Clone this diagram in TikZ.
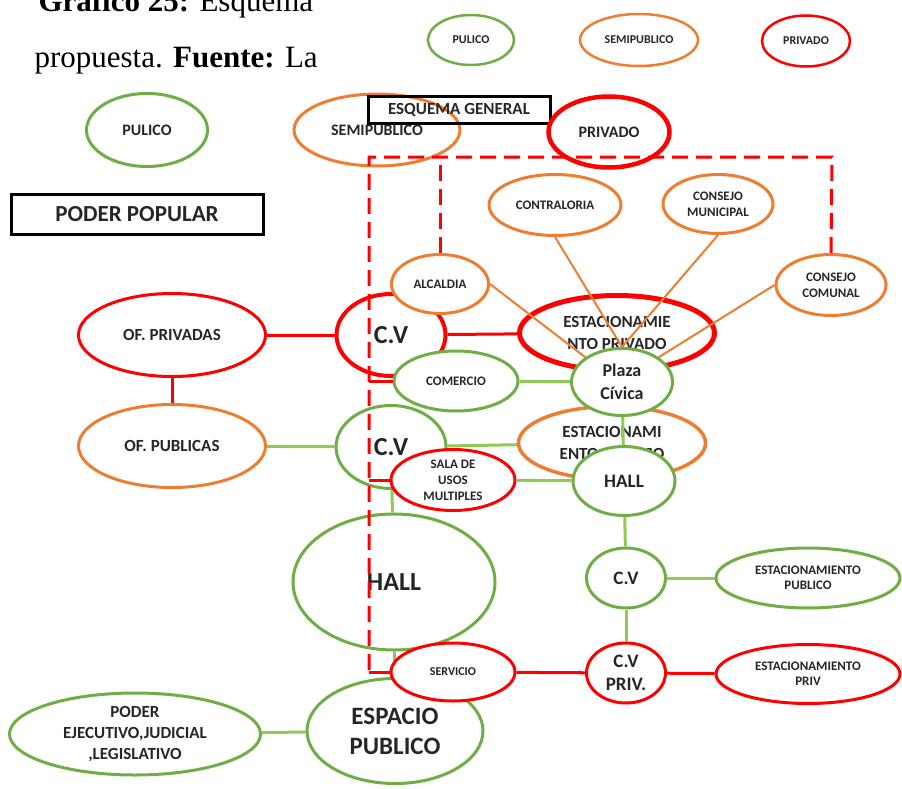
\documentclass[tikz,border=0pt]{standalone}
\usepackage{fontspec}
\setmainfont{Carlito}
\newfontfamily\capfont{Liberation Serif}
\usepackage{tikz}
\usetikzlibrary{shapes}

\definecolor{verde}{HTML}{70AD47}
\definecolor{verdeclaro}{HTML}{92C857}
\definecolor{naranja}{HTML}{ED7D31}
\definecolor{rojo}{HTML}{FF0000}
\newcommand{\tam}[2]{\fontsize{#1}{#2}\selectfont}

\begin{document}
\begin{tikzpicture}[x=1pt,y=-1pt,
  esp/.style={ellipse, fill=white, line width=3pt, inner sep=0pt, align=center, text=black!85, font=\tam{13}{16}\bfseries},
  pub/.style={esp, draw=verde},
  semi/.style={esp, draw=naranja},
  priv/.style={esp, draw=rojo},
  caja/.style={draw=black, line width=3pt, inner sep=0pt, text=black!85},
  lverde/.style={draw=verdeclaro, line width=3pt},
  lrojo/.style={draw=rojo, line width=3pt},
  lnaranja/.style={draw=naranja, line width=2pt},
  limite/.style={draw=rojo, line width=3pt, dash pattern=on 16pt off 8pt}]
\useasboundingbox (0,0) rectangle (902,789);

\node[anchor=base west, font=\capfont\tam{31}{37}] (titulo) at (35,12) {\textbf{Gráfico 25:} Esquema};
\node[anchor=base west, font=\capfont\tam{31}{37}] (fuente) at (31,68) {propuesta. \textbf{Fuente:} La};

\node[pub, line width=2.5pt, minimum width=86, minimum height=50, font=\tam{12}{14}\bfseries] (lpub) at (471,40) {PULICO};
\node[semi, line width=2.5pt, minimum width=118, minimum height=52, font=\tam{12}{14}\bfseries] (lsemi) at (639,40) {SEMIPUBLICO};
\node[priv, line width=2.5pt, minimum width=88, minimum height=51, font=\tam{12}{14}\bfseries] (lpriv) at (806,41) {PRIVADO};

\node[pub, minimum width=121, minimum height=73, font=\tam{16}{19}\bfseries] (pulico) at (147,130) {PULICO};
\node[semi, minimum width=166, minimum height=72, font=\tam{16}{19}\bfseries] (semipub) at (377,130) {SEMIPUBLICO};
\node[caja, minimum width=182, minimum height=27, font=\tam{17}{20}\bfseries] (esquema) at (459,110) {ESQUEMA GENERAL};
\node[priv, line width=4.5pt, minimum width=121, minimum height=71, font=\tam{16}{19}\bfseries] (privado) at (609,132) {PRIVADO};
\node[caja, minimum width=252, minimum height=40, font=\tam{23}{27}\bfseries] (podpop) at (137,214) {PODER POPULAR};

\node[priv, minimum width=187, minimum height=83, font=\tam{17}{20}\bfseries] (ofpriv) at (172,335) {OF. PRIVADAS};
\node[semi, minimum width=187, minimum height=83, font=\tam{17}{20}\bfseries] (ofpub) at (172,446) {OF. PUBLICAS};
\draw[lrojo] (ofpriv) -- (ofpub);

\node[priv, line width=4pt, minimum width=109, minimum height=82, font=\tam{26}{30}\bfseries] (cvrojo) at (391,335) {C.V};
\node[priv, line width=5pt, minimum width=195, minimum height=75, font=\tam{17}{22}\bfseries] (estpriv) at (617,333) {ESTACIONAMIE\\NTO PRIVADO};
\draw[lrojo] (ofpriv) -- (cvrojo);
\draw[lrojo] (cvrojo) -- (estpriv);

\node[semi, line width=3.5pt, minimum width=187, minimum height=73, font=\tam{17}{22}\bfseries] (estpub) at (612,443) {ESTACIONAMI\\ENTO PUBLICO};
\node[pub, minimum width=110, minimum height=83, font=\tam{26}{30}\bfseries] (cvverde) at (391,447) {C.V};
\draw[lverde] (ofpub) -- (cvverde);
\draw[lverde] (cvverde) -- (estpub);

\node[pub, minimum width=202, minimum height=136, font=\tam{26}{30}\bfseries] (hall) at (394,582) {HALL};
\node[pub, minimum width=176, minimum height=105, font=\tam{25}{30}\bfseries] (espacio) at (395,731) {ESPACIO\\PUBLICO};
\node[pub, minimum width=251, minimum height=82, font=\tam{17}{21}\bfseries] (poder) at (135,734) {PODER\\EJECUTIVO,JUDICIAL\\,LEGISLATIVO};
\draw[lverde] (cvverde) -- (hall);
\draw[lverde] (hall) -- (espacio);
\draw[lverde] (poder) -- (espacio);

\node[semi, minimum width=97, minimum height=59] (alcaldia) at (440,284) {ALCALDIA};
\node[semi, minimum width=132, minimum height=61] (contraloria) at (555,205) {CONTRALORIA};
\node[semi, minimum width=110, minimum height=59] (cmunicipal) at (718,204) {CONSEJO\\MUNICIPAL};
\node[semi, minimum width=110, minimum height=61] (ccomunal) at (831,285) {CONSEJO\\COMUNAL};
\node[pub, minimum width=124, minimum height=60] (comercio) at (456,381) {COMERCIO};
\node[pub, minimum width=101, minimum height=67, font=\tam{18}{23}\bfseries] (plaza) at (622,382) {Plaza\\Cívica};
\draw[lnaranja] (alcaldia.east) -- (plaza.north west);
\draw[lnaranja] (contraloria.south) -- (plaza.north);
\draw[lnaranja] (cmunicipal.south) -- (plaza.north);
\draw[lnaranja] (ccomunal.west) -- (plaza.north east);
\draw[lverde] (comercio) -- (plaza);

\node[pub, minimum width=102, minimum height=69, font=\tam{19}{23}\bfseries] (hallpeq) at (624,481) {HALL};
\node[priv, minimum width=124, minimum height=61] (sala) at (453,480) {SALA DE\\USOS\\MULTIPLES};
\draw[lverde] (plaza) -- (hallpeq);
\draw[lverde] (sala) -- (hallpeq);

\node[priv, minimum width=124, minimum height=58, font=\tam{12}{14}\bfseries] (servicio) at (453,672) {SERVICIO};
\node[pub, minimum width=79, minimum height=60, font=\tam{19}{23}\bfseries] (cvpeq) at (626,578) {C.V};
\node[priv, minimum width=79, minimum height=60, font=\tam{19}{23}\bfseries] (cvpriv) at (626,673) {C.V\\PRIV.};
\node[pub, minimum width=184, minimum height=60, font=\tam{13}{15}\bfseries] (estpubpeq) at (808,578) {ESTACIONAMIENTO\\PUBLICO};
\node[priv, minimum width=184, minimum height=59, font=\tam{13}{15}\bfseries] (estprivpeq) at (808,674) {ESTACIONAMIENTO\\PRIV};
\draw[lverde] (hallpeq) -- (cvpeq);
\draw[lverde] (cvpeq) edge (cvpriv) edge (estpubpeq);
\draw[lrojo] (servicio) -- (cvpriv);
\draw[lrojo] (cvpriv) -- (estprivpeq);

\coordinate (esqA) at (369,157);
\coordinate (esqB) at (832,157);
\coordinate (esqC) at (369,672);
\draw[limite] (ccomunal.north) -- (esqB) -- (esqA) -- (esqC);
\draw[limite] (alcaldia.north) -- (alcaldia.north |- esqA);
\draw[lrojo] (esqC) -- (servicio.west);
\draw[lrojo] (comercio.west -| esqA) -- (comercio.west);
\draw[lrojo] (sala.west -| esqA) -- (sala.west);
\end{tikzpicture}
\end{document}
